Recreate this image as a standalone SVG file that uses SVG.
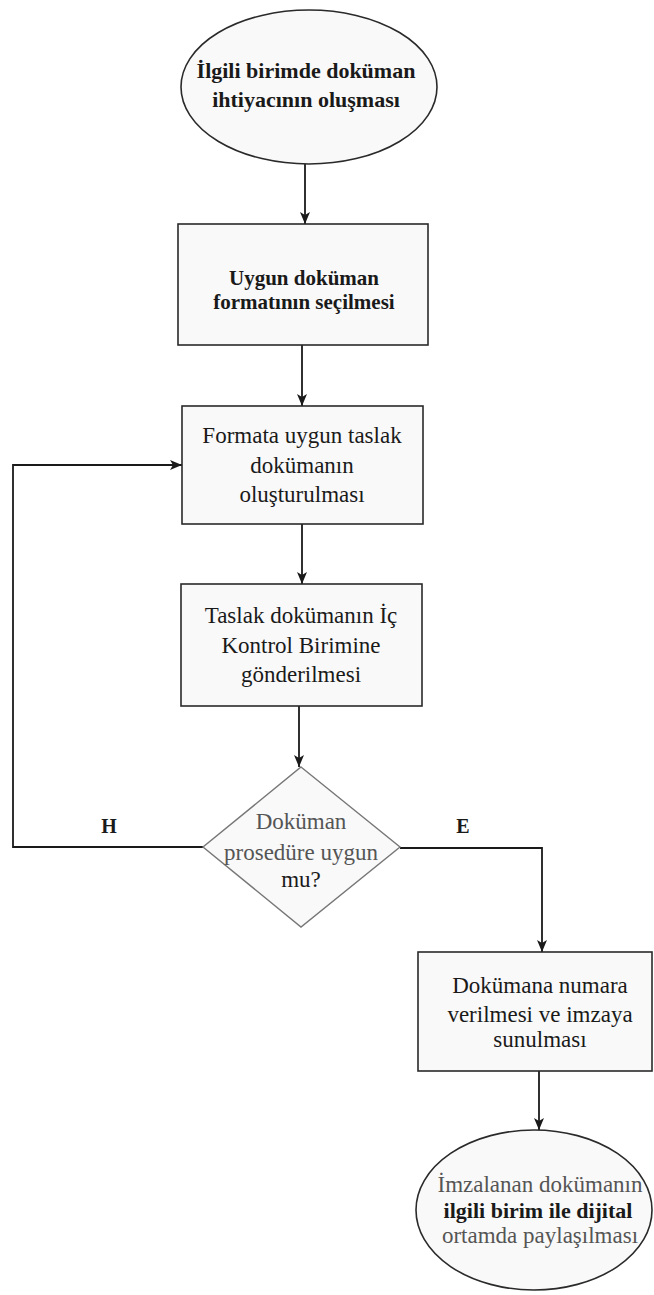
<svg xmlns="http://www.w3.org/2000/svg" width="654" height="1295" viewBox="0 0 654 1295">
<style>
.sh{fill:#f9f9f9;stroke:#2a2a2a;stroke-width:1.6}
.dm{fill:#f9f9f9;stroke:#777;stroke-width:1.4}
.t{font-family:"Liberation Serif","Times New Roman",serif;font-size:23px;fill:#1a1a1a;text-anchor:middle}
.b{font-weight:bold;font-size:21px}
.g{fill:#555}
.c{fill:none;stroke:#1a1a1a;stroke-width:1.8}
.lb{font-family:"Liberation Serif","Times New Roman",serif;font-size:20px;font-weight:bold;fill:#1a1a1a;text-anchor:middle}
</style>
<defs>
<marker id="ah" viewBox="0 0 12 10" refX="12" refY="5" markerWidth="12" markerHeight="10" markerUnits="userSpaceOnUse" orient="auto">
<path d="M0,0 L12,5 L0,10 L3,5 z" fill="#1a1a1a"/>
</marker>
</defs>
<rect width="654" height="1295" fill="#ffffff"/>
<g id="connectors">
<line class="c" x1="305" y1="164" x2="305" y2="224" marker-end="url(#ah)"/>
<line class="c" x1="302" y1="345" x2="302" y2="406" marker-end="url(#ah)"/>
<line class="c" x1="302" y1="524" x2="302" y2="584" marker-end="url(#ah)"/>
<line class="c" x1="299" y1="706" x2="299" y2="767" marker-end="url(#ah)"/>
<polyline class="c" points="203,847 13,847 13,465 182,465" marker-end="url(#ah)"/>
<polyline class="c" points="400,848 542,848 542,952" marker-end="url(#ah)"/>
<line class="c" x1="539" y1="1071" x2="539" y2="1130" marker-end="url(#ah)"/>
<text class="lb" x="109" y="833">H</text>
<text class="lb" x="463" y="833">E</text>
</g>
<g id="start">
<ellipse class="sh" cx="309" cy="87" rx="128" ry="77"/>
<text class="t b" x="306" y="78" style="font-size:22px">İlgili birimde doküman</text>
<text class="t b" x="306" y="107" style="font-size:22px">ihtiyacının oluşması</text>
</g>
<g id="format">
<rect class="sh" x="178" y="224" width="250" height="121"/>
<text class="t b" x="304" y="285">Uygun doküman</text>
<text class="t b" x="304" y="309">formatının seçilmesi</text>
</g>
<g id="draft">
<rect class="sh" x="182" y="406" width="241" height="118"/>
<text class="t" x="302" y="443">Formata uygun taslak</text>
<text class="t" x="302" y="473">dokümanın</text>
<text class="t" x="302" y="502">oluşturulması</text>
</g>
<g id="send">
<rect class="sh" x="181" y="584" width="241" height="122"/>
<text class="t" x="301" y="623">Taslak dokümanın İç</text>
<text class="t" x="301" y="653">Kontrol Birimine</text>
<text class="t" x="301" y="682">gönderilmesi</text>
</g>
<g id="decision">
<polygon class="dm" points="301,767 400,847 301,927 203,847"/>
<text class="t g" x="301" y="829">Doküman</text>
<text class="t g" x="301" y="860">prosedüre uygun</text>
<text class="t" x="301" y="887">mu?</text>
</g>
<g id="number">
<rect class="sh" x="418" y="952" width="234" height="119"/>
<text class="t" x="540" y="993">Dokümana numara</text>
<text class="t" x="540" y="1022">verilmesi ve imzaya</text>
<text class="t" x="540" y="1047">sunulması</text>
</g>
<g id="end">
<ellipse class="sh" cx="534" cy="1210" rx="118" ry="80"/>
<text class="t g" x="540" y="1192">İmzalanan dokümanın</text>
<text class="t b" x="538" y="1218" style="font-size:22px">ilgili birim ile dijital</text>
<text class="t g" x="540" y="1243">ortamda paylaşılması</text>
</g>
</svg>
